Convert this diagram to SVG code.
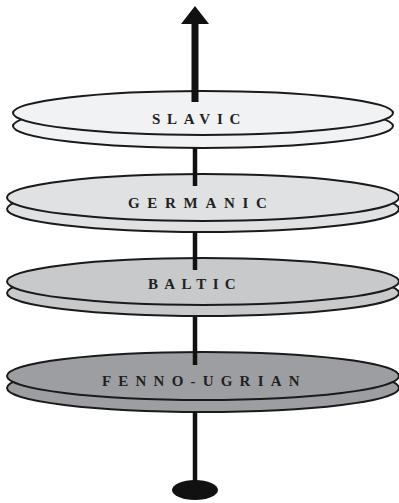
<svg xmlns="http://www.w3.org/2000/svg" width="399" height="503" viewBox="0 0 399 503">
<style>
.disc{stroke:#1a1a1a;stroke-width:2}
.lbl{font-family:"Liberation Serif","Times New Roman",serif;font-weight:bold;font-size:15px;fill:#231f20}
.shaft{stroke:#111;stroke-width:4.5;fill:none}
</style>
<rect width="399" height="503" fill="#fff"/>
<g id="slavic">
<ellipse class="disc" cx="203" cy="126" rx="190" ry="22" fill="#f1f2f3"/>
<ellipse class="disc" cx="203" cy="113" rx="190" ry="22" fill="#f1f2f3"/>
<text class="lbl" x="152" y="124" letter-spacing="6.7">SLAVIC</text>
</g>
<g id="germanic">
<ellipse class="disc" cx="203" cy="209" rx="196" ry="23" fill="#e0e1e2"/>
<ellipse class="disc" cx="203" cy="197.5" rx="196" ry="23.5" fill="#e0e1e2"/>
<text class="lbl" x="128" y="208" letter-spacing="7.7">GERMANIC</text>
</g>
<g id="baltic">
<ellipse class="disc" cx="203" cy="293" rx="196" ry="23" fill="#c8c9cb"/>
<ellipse class="disc" cx="203" cy="281.5" rx="196" ry="23.5" fill="#c8c9cb"/>
<text class="lbl" x="148" y="289" letter-spacing="6.3">BALTIC</text>
</g>
<g id="fenno-ugrian">
<ellipse class="disc" cx="203" cy="388" rx="196" ry="24" fill="#9d9ea1"/>
<ellipse class="disc" cx="203" cy="376" rx="196" ry="24" fill="#9d9ea1"/>
<text class="lbl" x="102" y="386" letter-spacing="7.2">FENNO-UGRIAN</text>
</g>
<g id="connectors">
<line x1="195" y1="22" x2="195" y2="102" stroke="#111" stroke-width="7"/>
<polygon points="195,6 209,24 181,24" fill="#111"/>
<line class="shaft" x1="195" y1="148" x2="195" y2="186"/>
<line class="shaft" x1="195" y1="232" x2="195" y2="270"/>
<line class="shaft" x1="195" y1="317" x2="195" y2="365"/>
<line class="shaft" x1="195" y1="412" x2="195" y2="482"/>
<ellipse cx="195" cy="490" rx="23" ry="10" fill="#111"/>
</g>
</svg>
